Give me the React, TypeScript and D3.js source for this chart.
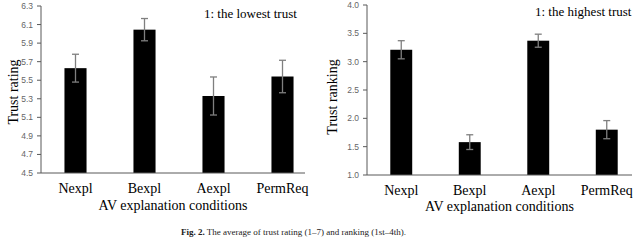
import React from 'react';
import * as d3 from 'd3';

const categories = ['Nexpl', 'Bexpl', 'Aexpl', 'PermReq'];

const ratingMeans = [5.63, 6.045, 5.33, 5.54];
const ratingErrors = [0.15, 0.12, 0.205, 0.175];
const ratingTicks = ['4.5', '4.7', '4.9', '5.1', '5.3', '5.5', '5.7', '5.9', '6.1', '6.3'];

const rankingMeans = [3.21, 1.58, 3.37, 1.8];
const rankingErrors = [0.16, 0.13, 0.115, 0.16];
const rankingTicks = ['1.0', '1.5', '2.0', '2.5', '3.0', '3.5', '4.0'];

const serif = '"Liberation Serif", "DejaVu Serif", serif';
const sans = '"Liberation Sans", Arial, sans-serif';

type PanelProps = {
  means: number[];
  errors: number[];
  ticks: string[];
  domain: [number, number];
  x0: number;
  x1: number;
  axisEnd: number;
  yTop: number;
  yBottom: number;
  yLabel: string;
  yLabelX: number;
  yLabelY: number;
  note: string;
  noteX: number;
  noteY: number;
  catY: number;
  titleY: number;
};

const Panel = (p: PanelProps) => {
  const x = d3.scaleBand<string>().domain(categories).range([p.x0, p.x1]).paddingInner(0.68).paddingOuter(0.34);
  const y = d3.scaleLinear().domain(p.domain).range([p.yBottom, p.yTop]);
  const bw = x.bandwidth();
  const mid = (p.x0 + p.axisEnd) / 2;

  return (
    <g>
      {/* y axis */}
      <line x1={p.x0} x2={p.x0} y1={p.yTop} y2={p.yBottom} stroke="#595959" strokeWidth={1} />
      {p.ticks.map(t => (
        <g key={t}>
          <line x1={p.x0 - 4} x2={p.x0} y1={y(+t)} y2={y(+t)} stroke="#595959" />
          <text x={p.x0 - 8} y={y(+t)} dy="0.35em" textAnchor="end" fontFamily={sans} fontSize={8.5} fill="#666">{t}</text>
        </g>
      ))}
      {/* bars */}
      {categories.map((c, i) => (
        <rect key={c} x={x(c)} y={y(p.means[i])} width={bw} height={p.yBottom - y(p.means[i])} fill="#000" />
      ))}
      {/* error bars */}
      {categories.map((c, i) => {
        const cx = (x(c) as number) + bw / 2;
        const hi = y(p.means[i] + p.errors[i]);
        const lo = y(p.means[i] - p.errors[i]);
        return (
          <g key={c} stroke="#7f7f7f" strokeWidth={1.3}>
            <line x1={cx} x2={cx} y1={hi} y2={lo} />
            <line x1={cx - 3.5} x2={cx + 3.5} y1={hi} y2={hi} />
            <line x1={cx - 3.5} x2={cx + 3.5} y1={lo} y2={lo} />
          </g>
        );
      })}
      {/* x axis */}
      <line x1={p.x0} x2={p.axisEnd} y1={p.yBottom} y2={p.yBottom} stroke="#595959" strokeWidth={1} />
      {categories.map(c => (
        <text key={c} x={(x(c) as number) + bw / 2} y={p.catY} textAnchor="middle" fontFamily={serif} fontSize={14} fill="#000">{c}</text>
      ))}
      <text x={mid} y={p.titleY} textAnchor="middle" fontFamily={serif} fontSize={14} fill="#000">AV explanation conditions</text>
      <text transform={`translate(${p.yLabelX},${p.yLabelY}) rotate(-90)`} textAnchor="middle" fontFamily={serif} fontSize={14} fill="#000">{p.yLabel}</text>
      <text x={p.noteX} y={p.noteY} fontFamily={serif} fontSize={13} fill="#000">{p.note}</text>
    </g>
  );
};

const App = () => (
  <svg width={640} height={240} style={{ position: 'absolute', left: 0, top: 0, background: '#fff' }}>
    <Panel
      means={ratingMeans} errors={ratingErrors} ticks={ratingTicks} domain={[4.5, 6.3]}
      x0={41} x1={317} axisEnd={305} yTop={6} yBottom={173}
      yLabel="Trust rating" yLabelX={18} yLabelY={92}
      note="1: the lowest trust" noteX={204} noteY={18}
      catY={193} titleY={210}
    />
    <Panel
      means={rankingMeans} errors={rankingErrors} ticks={rankingTicks} domain={[1, 4]}
      x0={367} x1={641} axisEnd={632} yTop={5} yBottom={175}
      yLabel="Trust ranking" yLabelX={337} yLabelY={97}
      note="1: the highest trust" noteX={535} noteY={16}
      catY={195} titleY={211}
    />
    <text x={181} y={235} fontFamily={serif} fontSize={9} fill="#222">
      <tspan fontWeight="bold">Fig. 2.</tspan> The average of trust rating (1–7) and ranking (1st–4th).
    </text>
  </svg>
);

export default App;
